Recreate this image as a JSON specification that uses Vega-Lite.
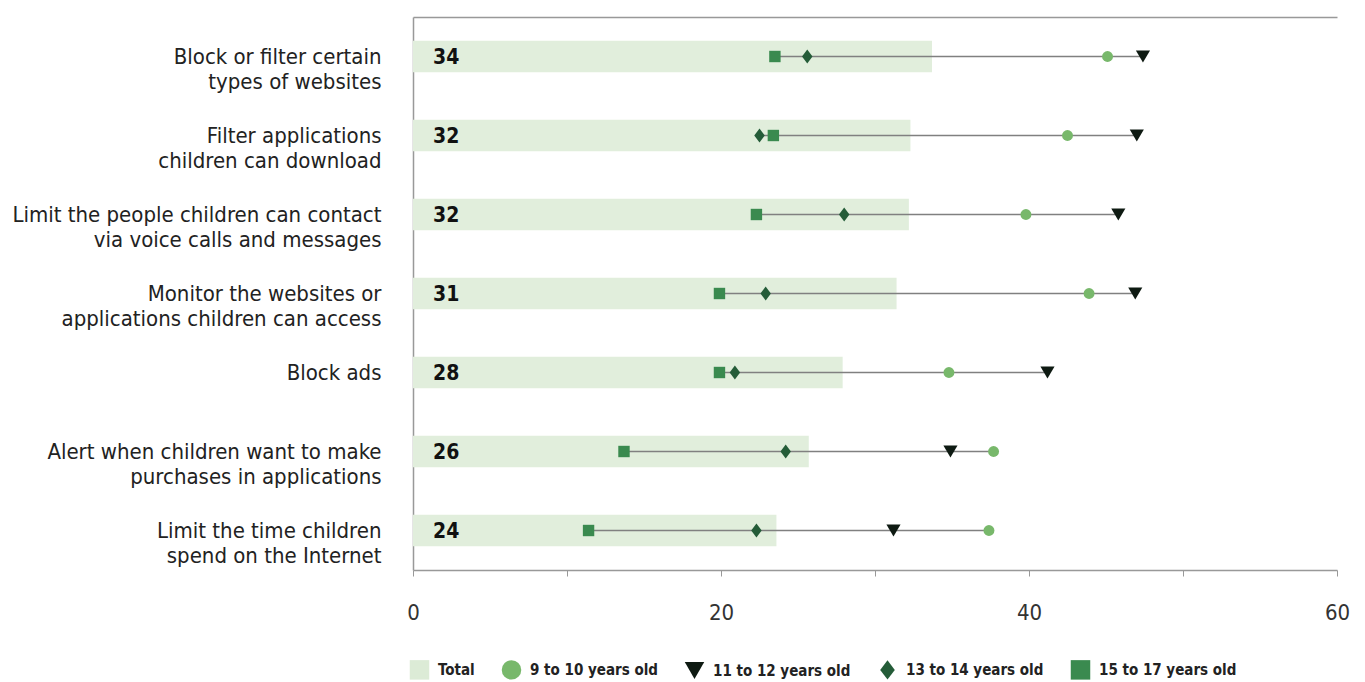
{
  "$schema": "https://vega.github.io/schema/vega-lite/v6.json",
  "width": 924,
  "height": 553,
  "autosize": {"type": "none"},
  "padding": {"left": 413, "top": 17, "right": 28, "bottom": 112},
  "background": "white",
  "config": {
    "view": {"stroke": null},
    "font": "Liberation Sans Narrow, DejaVu Sans Condensed, sans-serif"
  },
  "resolve": {"axis": {"x": "independent"}},
  "datasets": {
    "totals": [
      {"cat": "Block or filter certain|types of websites", "total": 33.7},
      {"cat": "Filter applications|children can download", "total": 32.3},
      {"cat": "Limit the people children can contact|via voice calls and messages", "total": 32.2},
      {"cat": "Monitor the websites or|applications children can access", "total": 31.4},
      {"cat": "Block ads", "total": 27.9},
      {"cat": "Alert when children want to make|purchases in  applications", "total": 25.7},
      {"cat": "Limit the time children|spend on the Internet", "total": 23.6}
    ],
    "ages": [
      {"cat": "Block or filter certain|types of websites", "series": "9 to 10 years old", "value": 45.1},
      {"cat": "Block or filter certain|types of websites", "series": "11 to 12 years old", "value": 47.4},
      {"cat": "Block or filter certain|types of websites", "series": "13 to 14 years old", "value": 25.6},
      {"cat": "Block or filter certain|types of websites", "series": "15 to 17 years old", "value": 23.5},
      {"cat": "Filter applications|children can download", "series": "9 to 10 years old", "value": 42.5},
      {"cat": "Filter applications|children can download", "series": "11 to 12 years old", "value": 47.0},
      {"cat": "Filter applications|children can download", "series": "13 to 14 years old", "value": 22.5},
      {"cat": "Filter applications|children can download", "series": "15 to 17 years old", "value": 23.4},
      {"cat": "Limit the people children can contact|via voice calls and messages", "series": "9 to 10 years old", "value": 39.8},
      {"cat": "Limit the people children can contact|via voice calls and messages", "series": "11 to 12 years old", "value": 45.8},
      {"cat": "Limit the people children can contact|via voice calls and messages", "series": "13 to 14 years old", "value": 28.0},
      {"cat": "Limit the people children can contact|via voice calls and messages", "series": "15 to 17 years old", "value": 22.3},
      {"cat": "Monitor the websites or|applications children can access", "series": "9 to 10 years old", "value": 43.9},
      {"cat": "Monitor the websites or|applications children can access", "series": "11 to 12 years old", "value": 46.9},
      {"cat": "Monitor the websites or|applications children can access", "series": "13 to 14 years old", "value": 22.9},
      {"cat": "Monitor the websites or|applications children can access", "series": "15 to 17 years old", "value": 19.9},
      {"cat": "Block ads", "series": "9 to 10 years old", "value": 34.8},
      {"cat": "Block ads", "series": "11 to 12 years old", "value": 41.2},
      {"cat": "Block ads", "series": "13 to 14 years old", "value": 20.9},
      {"cat": "Block ads", "series": "15 to 17 years old", "value": 19.9},
      {"cat": "Alert when children want to make|purchases in  applications", "series": "9 to 10 years old", "value": 37.7},
      {"cat": "Alert when children want to make|purchases in  applications", "series": "11 to 12 years old", "value": 34.9},
      {"cat": "Alert when children want to make|purchases in  applications", "series": "13 to 14 years old", "value": 24.2},
      {"cat": "Alert when children want to make|purchases in  applications", "series": "15 to 17 years old", "value": 13.7},
      {"cat": "Limit the time children|spend on the Internet", "series": "9 to 10 years old", "value": 37.4},
      {"cat": "Limit the time children|spend on the Internet", "series": "11 to 12 years old", "value": 31.2},
      {"cat": "Limit the time children|spend on the Internet", "series": "13 to 14 years old", "value": 22.3},
      {"cat": "Limit the time children|spend on the Internet", "series": "15 to 17 years old", "value": 11.4}
    ]
  },
  "encoding": {
    "y": {
      "field": "cat",
      "type": "nominal",
      "sort": null,
      "title": null,
      "scale": {"paddingInner": 0, "paddingOuter": 0},
      "axis": {
        "labelExpr": "split(datum.label, '|')",
        "labelFontSize": 22,
        "labelLineHeight": 25,
        "labelColor": "#222222",
        "labelPadding": 32,
        "labelLimit": 500,
        "ticks": false,
        "domainColor": "#999999",
        "domainWidth": 1.5
      }
    }
  },
  "layer": [
    {
      "data": {"name": "totals"},
      "mark": {"type": "bar", "height": {"band": 0.4}, "color": "#e1eedc"},
      "encoding": {
        "x": {
          "field": "total",
          "type": "quantitative",
          "title": null,
          "scale": {"domain": [0, 60], "nice": false},
          "axis": {
            "orient": "bottom",
            "values": [0, 10, 20, 30, 40, 50, 60],
            "labelExpr": "datum.value % 20 == 0 ? datum.label : ''",
            "labelFlush": false,
            "labelOverlap": false,
            "grid": false,
            "labelFontSize": 22,
            "labelColor": "#333333",
            "labelPadding": 26,
            "tickSize": 6,
            "tickColor": "#999999",
            "domainColor": "#999999",
            "domainWidth": 1.5
          }
        }
      }
    },
    {
      "data": {"name": "totals"},
      "mark": {"type": "text", "align": "left", "baseline": "middle", "dx": 20, "dy": 1, "fontSize": 21, "fontWeight": "bold", "color": "#111111"},
      "encoding": {
        "x": {"datum": 0, "type": "quantitative", "axis": null},
        "text": {"field": "total", "type": "quantitative", "format": ".0f"}
      }
    },
    {
      "data": {"name": "totals"},
      "mark": {"type": "tick", "opacity": 0},
      "encoding": {
        "x": {
          "field": "total",
          "type": "quantitative",
          "axis": {"orient": "top", "labels": false, "ticks": false, "grid": false, "title": null, "domainColor": "#999999", "domainWidth": 1.5}
        }
      }
    },
    {
      "data": {"name": "ages"},
      "mark": {"type": "rule", "color": "#808080", "strokeWidth": 1.5},
      "encoding": {
        "x": {"aggregate": "min", "field": "value", "type": "quantitative", "axis": null},
        "x2": {"aggregate": "max", "field": "value"}
      }
    },
    {
      "data": {"name": "ages"},
      "transform": [{"filter": "datum.series == '15 to 17 years old'"}],
      "mark": {"type": "point", "filled": true, "opacity": 1, "size": 130},
      "encoding": {
        "x": {"field": "value", "type": "quantitative", "axis": null},
        "color": {"field": "series", "type": "nominal"},
        "shape": {"field": "series", "type": "nominal"}
      }
    },
    {
      "data": {"name": "ages"},
      "transform": [{"filter": "datum.series == '13 to 14 years old'"}],
      "mark": {"type": "point", "filled": true, "opacity": 1, "size": 196},
      "encoding": {
        "x": {"field": "value", "type": "quantitative", "axis": null},
        "color": {"field": "series", "type": "nominal"},
        "shape": {"field": "series", "type": "nominal"}
      }
    },
    {
      "data": {"name": "ages"},
      "transform": [{"filter": "datum.series == '9 to 10 years old'"}],
      "mark": {"type": "point", "filled": true, "opacity": 1, "size": 120},
      "encoding": {
        "x": {"field": "value", "type": "quantitative", "axis": null},
        "color": {"field": "series", "type": "nominal"},
        "shape": {"field": "series", "type": "nominal"}
      }
    },
    {
      "data": {"name": "ages"},
      "transform": [{"filter": "datum.series == '11 to 12 years old'"}],
      "mark": {"type": "point", "filled": true, "opacity": 1, "size": 200},
      "encoding": {
        "x": {"field": "value", "type": "quantitative", "axis": null},
        "color": {
          "field": "series",
          "type": "nominal",
          "title": null,
          "scale": {
            "domain": ["Total", "9 to 10 years old", "11 to 12 years old", "13 to 14 years old", "15 to 17 years old"],
            "range": ["#dcebd6", "#78b86b", "#0e1a12", "#245c38", "#3a8a4f"]
          },
          "legend": {
            "orient": "none",
            "direction": "horizontal",
            "legendX": -4,
            "legendY": 642,
            "symbolSize": 380,
            "labelFontSize": 15,
            "labelFontWeight": "bold",
            "labelColor": "#222222",
            "columnPadding": 26,
            "labelOffset": 8,
            "symbolOpacity": 1
          }
        },
        "shape": {
          "field": "series",
          "type": "nominal",
          "title": null,
          "scale": {
            "domain": ["Total", "9 to 10 years old", "11 to 12 years old", "13 to 14 years old", "15 to 17 years old"],
            "range": ["square", "circle", "triangle-down", "M0,-1L0.75,0L0,1L-0.75,0Z", "square"]
          }
        }
      }
    }
  ]
}
